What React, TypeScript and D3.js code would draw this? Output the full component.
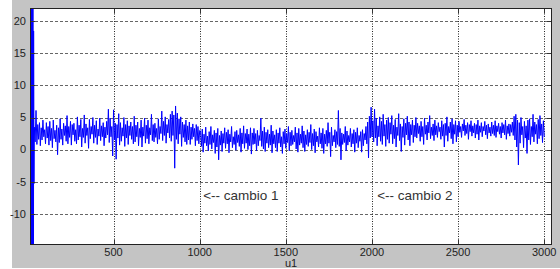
import React from 'react';
import * as d3 from 'd3';

// start-up transient (goes off scale)
const startT = [20, 22, 24, 26, 28, 30, 32, 34, 36, 38];
const startV = [80, -80, 80, -80, 80, -80, 80, -80, 18.5, -5.3];

// samples every 5 steps, t = 40 .. 1000
const seg1 = [
  3.5, 1.2, 6.1, 0.8, 3.9, 1.6, 4.2, 0.6, 3.4, 1.5, 4.6, 2.0, 3.1, 0.9, 4.2, 1.8, 3.6, 0.7, 4.4, 1.4,
  3.3, 0.3, 4.6, 1.7, 3.0, 1.2, 3.8, -0.8, 3.4, 1.1, 4.8, 1.6, 3.2, 0.7, 4.1, 2.2, 3.7, 1.3, 5.3, 0.9,
  3.6, 1.9, 4.4, 0.7, 3.9, 2.3, 4.1, 1.3, 3.1, 0.9, 5.1, 1.5, 3.8, 2.0, 4.7, 0.4, 3.3, 1.9, 5.4, 1.0,
  4.0, 2.2, 3.4, 0.2, 4.7, 1.7, 3.6, 2.4, 5.0, 1.0, 3.8, 1.9, 4.5, 0.8, 3.2, 2.1, 4.9, 1.4, 3.7, 2.0,
  4.2, 0.6, 3.5, 1.8, 4.4, 2.3, 6.3, 1.1, 4.9, 2.0, 3.6, -1.0, 6.2, 1.5, 4.1, -1.5, 3.9, 1.8, 5.6, 0.7,
  4.2, 1.3, 3.4, 2.1, 5.0, 0.5, 3.9, 1.8, 4.5, 0.8, 3.7, 2.2, 4.3, 1.6, 3.6, 0.9, 5.2, 1.2, 3.8, 2.0,
  4.3, 0.6, 3.3, 1.9, 4.6, 0.4, 3.5, 2.1, 4.9, 1.0, 3.8, 1.7, 4.6, 0.9, 3.4, 2.3, 5.5, 1.4, 3.9, 1.2,
  4.1, 1.9, 3.3, 0.9, 4.8, 1.6, 3.6, 2.5, 6.0, 1.4, 4.4, 2.2, 5.1, 1.0, 3.9, 2.6, 4.7, 1.8, 5.5, 1.3,
  6.0, 2.2, 5.4, -2.9, 6.8, 1.6, 5.7, 0.9, 4.8, 2.4, 5.1, 0.5, 4.3, 1.9, 3.9, 1.2, 4.6, 0.8, 3.7, 1.5,
  4.3, 0.8, 3.5, 1.6, 4.0, 2.0, 3.3, 0.6, 3.9, 1.4, 3.6, 0.9, 3.0
];

// t = 1005 .. 2000 (after cambio 1)
const seg2 = [
  2.9, 0.5, 3.2, -0.4, 2.4, 1.0, 3.5, 0.6, 2.1, -0.2, 2.8, 0.8, 3.6, 0.1, 2.3, 1.1, 3.0, -0.6, 2.6, 0.4,
  3.3, -1.6, 2.2, 0.7, 2.9, -0.3, 2.5, 1.0, 3.4, 0.2, 2.7, 0.9, 3.1, -0.5, 2.4, 1.2, 3.6, 0.3, 2.0, 0.8,
  2.8, -0.1, 3.0, 1.1, 2.3, 0.5, 3.3, -0.4, 2.6, 0.9, 3.7, 0.2, 2.5, 1.0, 3.2, 0.0, 2.4, 0.6, 3.4, -0.7,
  2.6, 0.8, 3.3, 0.9, 2.5, -0.2, 3.0, 0.6, 2.2, 1.4, 4.9, 0.5, 2.9, 0.1, 3.5, -0.3, 2.7, 1.0, 3.1, 0.3,
  2.4, 0.7, 3.8, -0.5, 2.9, 0.9, 2.3, 0.3, 3.1, -0.3, 2.6, 1.0, 3.4, 0.4, 2.0, -0.6, 2.8, 0.9, 3.2, 0.2,
  2.5, 1.1, 3.6, -0.2, 2.7, 0.6, 3.0, 0.8, 2.2, 1.2, 3.5, 0.1, 2.6, -0.4, 3.3, 0.7, 2.4, 1.0, 3.7, 0.3,
  2.9, -0.3, 2.3, 0.8, 3.1, 0.5, 2.7, 1.1, 3.9, 0.0, 2.5, 0.6, 3.2, -0.5, 2.8, 1.2, 2.1, 0.4, 3.4, 0.9,
  2.6, 0.2, 3.3, -0.6, 2.4, 0.9, 3.0, 0.5, 4.2, 1.0, 2.7, -1.1, 3.5, 0.6, 2.2, 1.2, 3.1, 0.3, 2.8, 0.8,
  6.1, 0.5, 3.3, -1.6, 2.6, 0.8, 2.4, 1.1, 3.6, -0.2, 2.9, 0.7, 2.2, 1.2, 3.3, 0.4, 2.5, 0.9, 3.1, -0.4,
  2.7, 1.0, 3.4, 0.3, 2.2, 1.3, 2.8, -0.4, 3.1, 0.6, 2.5, 1.5, 3.6, 0.9, 4.3, -1.3, 5.2, 1.8, 6.6, 2.0
];

// t = 2005 .. 3000 (after cambio 2)
const seg3 = [
  4.5, 1.2, 6.3, 1.8, 4.9, 0.6, 3.7, 2.0, 5.1, 1.3, 4.4, 0.8, 5.5, 2.1, 3.9, 0.5, 4.6, 1.6, 5.0, 1.0,
  4.2, 2.4, 5.3, 0.9, 3.8, 1.7, 4.7, 0.4, 3.5, 2.2, 5.6, 1.4, 4.0, -0.3, 3.6, 1.9, 4.8, 0.7, 4.1, 2.3,
  5.2, 1.5, 4.3, 0.6, 3.9, 2.3, 4.6, 1.1, 3.8, 2.0, 5.0, 1.8, 4.1, 2.5, 3.7, 1.3, 4.4, 2.0, 3.6, 0.8,
  4.9, 2.4, 3.8, 1.5, 4.3, 2.6, 5.3, 1.7, 3.5, 2.2, 4.0, 1.4, 4.6, 2.3, 3.7, 1.9, 4.2, 2.8, 3.5, 1.6,
  4.5, 2.1, 3.9, 0.4, 4.1, 2.2, 5.1, 1.3, 3.6, 2.6, 4.3, 1.7, 4.8, 0.9, 3.9, 2.4, 4.5, 1.2, 3.8, 2.0,
  4.4, 2.7, 3.6, 1.9, 4.0, 2.9, 4.7, 2.2, 3.8, 2.5, 4.2, 1.6, 3.9, 2.8, 4.5, 2.1, 3.7, 2.6, 4.1, 1.8,
  3.9, 2.4, 4.6, 1.5, 3.7, 2.7, 4.2, 2.0, 3.6, 2.9, 4.4, 2.3, 3.8, 1.7, 4.0, 2.6, 3.5, 2.1, 4.3, 2.5,
  3.8, 2.2, 4.5, 1.9, 3.7, 2.8, 4.1, 2.4, 3.6, 1.8, 4.2, 2.6, 3.9, 2.3, 4.6, 1.6, 3.7, 2.5, 4.0, 2.1,
  3.9, 2.7, 4.3, 2.2, 5.2, 1.5, 5.5, 0.4, 4.6, -2.4, 4.2, 1.0, 5.0, 2.3, 3.6, 0.3, 4.4, 1.8, 3.7, -0.6,
  4.6, 1.5, 4.8, 0.8, 3.6, 2.0, 5.5, 1.2, 4.3, 2.4, 3.9, 0.9, 4.7, 1.7, 5.3, 2.2, 4.0, 1.1, 4.5, 2.0
];

const xTicks = [500, 1000, 1500, 2000, 2500, 3000];
const yTicks = [-10, -5, 0, 5, 10, 15, 20];
const notes = [
  { t: 1020, v: -7.1, label: '<-- cambio 1' },
  { t: 2030, v: -7.1, label: '<-- cambio 2' }
];

const W = 560;
const H = 269;
const margin = { left: 30, right: 8, top: 8.5, bottom: 24.5 };

export default function App() {
  const x = d3.scaleLinear().domain([15, 3045]).range([margin.left, W - margin.right]);
  const y = d3.scaleLinear().domain([-14.8, 22]).range([H - margin.bottom, margin.top]);

  // build the series
  const points: [number, number][] = [];
  startT.forEach((t, i) => points.push([t, startV[i]]));
  seg1.forEach((v, i) => points.push([40 + i * 5, v]));
  seg2.forEach((v, i) => points.push([1005 + i * 5, v]));
  seg3.forEach((v, i) => points.push([2005 + i * 5, v]));

  const line = d3.line<[number, number]>()
    .x(d => x(d[0]))
    .y(d => y(d[1]));

  const [x0, x1] = x.range();
  const [yb, yt] = y.range();
  const font = '"Liberation Sans", Arial, sans-serif';

  return (
    <div style={{ position: 'absolute', left: 0, top: 0 }}>
      <svg width={W} height={H} style={{ display: 'block' }}>
        <rect x={12} y={0} width={W - 12} height={268} fill="#c4c4c4" />
        <rect x={x0} y={yt} width={x1 - x0} height={yb - yt} fill="#fff" />

        {/* grid */}
        {yTicks.map(v => (
          <line key={'gy' + v} x1={x0} x2={x1} y1={Math.round(y(v)) + 0.5} y2={Math.round(y(v)) + 0.5}
            stroke="#666" strokeDasharray="3,2" />
        ))}
        {xTicks.map(t => (
          <line key={'gx' + t} x1={Math.round(x(t)) + 0.5} x2={Math.round(x(t)) + 0.5} y1={yt} y2={yb}
            stroke="#222" strokeDasharray="1,1.5" />
        ))}

        <defs>
          <clipPath id="plot">
            <rect x={x0} y={yt} width={x1 - x0} height={yb - yt} />
          </clipPath>
        </defs>
        <path d={line(points) || ''} fill="none" stroke="#0000ff" strokeWidth={1} clipPath="url(#plot)" />

        {/* ticks */}
        {yTicks.map(v => (
          <g key={'ty' + v}>
            <line x1={x0} x2={x0 + 5} y1={Math.round(y(v)) + 0.5} y2={Math.round(y(v)) + 0.5} stroke="#333" />
            <line x1={x1 - 5} x2={x1} y1={Math.round(y(v)) + 0.5} y2={Math.round(y(v)) + 0.5} stroke="#333" />
            <text x={26} y={y(v)} dy="0.35em" textAnchor="end" fontFamily={font} fontSize={11} fill="#222">
              {v}
            </text>
          </g>
        ))}
        {xTicks.map(t => (
          <g key={'tx' + t}>
            <line x1={Math.round(x(t)) + 0.5} x2={Math.round(x(t)) + 0.5} y1={yb - 5} y2={yb} stroke="#333" />
            <line x1={Math.round(x(t)) + 0.5} x2={Math.round(x(t)) + 0.5} y1={yt} y2={yt + 5} stroke="#333" />
            <text x={x(t)} y={252} dy="0.35em" textAnchor="middle" fontFamily={font} fontSize={11} fill="#222">
              {t}
            </text>
          </g>
        ))}

        <rect x={x0 + 0.5} y={yt} width={x1 - x0 - 1} height={yb - yt} fill="none" stroke="#222" />

        {notes.map(n => (
          <text key={n.label} x={x(n.t)} y={y(n.v)} dy="0.35em" fontFamily={font} fontSize={13.5} fill="#333">
            {n.label}
          </text>
        ))}

        <text x={(x0 + x1) / 2} y={263} dy="0.35em" textAnchor="middle" fontFamily={font} fontSize={11} fill="#222">
          u1
        </text>
      </svg>
    </div>
  );
}
